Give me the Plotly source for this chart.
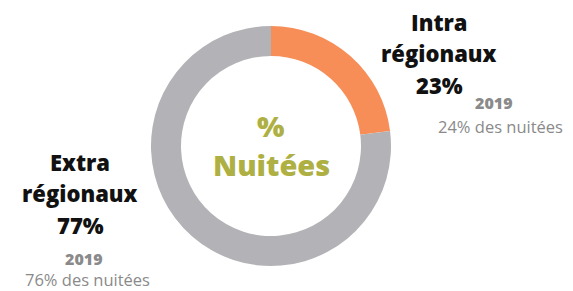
import plotly.graph_objects as go

categories = ["Intra régionaux", "Extra régionaux"]
values = [23, 77]
values_2019 = [24, 76]
colors = ["#F78D57", "#B3B2B6"]
year = "2019"
center_title = ["%", "Nuitées"]

W, H = 573, 291
cx, cy, R = 271, 146, 120

fig = go.Figure(go.Pie(
    labels=categories, values=values, hole=0.75, sort=False,
    direction="clockwise", rotation=0,
    marker=dict(colors=colors, line=dict(width=0)),
    textinfo="none", hoverinfo="label+percent", showlegend=False,
    domain=dict(x=[(cx - R) / W, (cx + R) / W], y=[1 - (cy + R) / H, 1 - (cy - R) / H]),
))

def px(x, y):
    return x / W, 1 - y / H

BOLD = "Open Sans"
anns = []
def add(text, x, y, size, color, weight=800, family=BOLD):
    ax, ay = px(x, y)
    anns.append(dict(text=text, x=ax, y=ay, xref="paper", yref="paper",
                     showarrow=False, xanchor="center", yanchor="middle",
                     font=dict(size=size, color=color, family=family, weight=weight)))

# Intra block
w1 = categories[0].split(" ")
add(w1[0], 439, 22, 22, "#111111")
add(w1[1], 439, 53, 22, "#111111")
add(f"{values[0]}%", 439, 85, 22, "#111111")
add(year, 494, 103, 16, "#8A8A8A")
add(f"{values_2019[0]}% des nuitées", 500, 126, 16.5, "#8A8A8A", weight=400)

# Extra block
w2 = categories[1].split(" ")
add(w2[0], 80, 162, 22, "#111111")
add(w2[1], 80, 193, 22, "#111111")
add(f"{values[1]}%", 80, 225, 22, "#111111")
add(year, 84, 259, 16, "#8A8A8A")
add(f"{values_2019[1]}% des nuitées", 87, 279, 16.5, "#8A8A8A", weight=400)

# Center
add(center_title[0], 271, 125, 29, "#AEB043")
add(center_title[1], 271, 164, 29, "#AEB043")

fig.update_layout(width=W, height=H, margin=dict(l=0, r=0, t=0, b=0),
                  paper_bgcolor="white", plot_bgcolor="white", annotations=anns)
fig.write_html("out.html", config={"displayModeBar": False},
               post_script="document.body.style.margin='0';")
